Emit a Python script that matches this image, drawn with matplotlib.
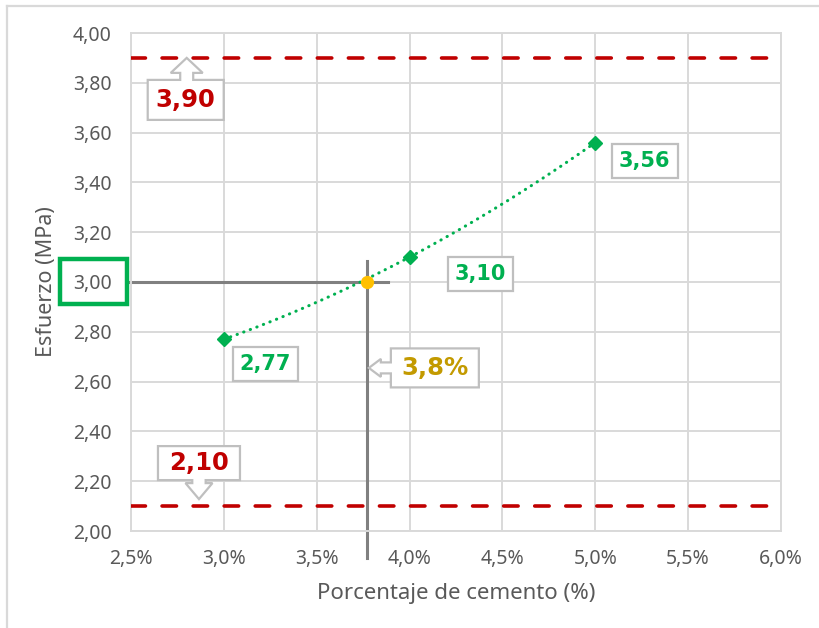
import numpy as np
import matplotlib
matplotlib.use("Agg")
import matplotlib.pyplot as plt
import matplotlib.transforms as mtransforms
from matplotlib.patches import Polygon, Rectangle
from matplotlib.lines import Line2D

# data
cement = [3.0, 4.0, 5.0]          # % cemento
stress = [2.77, 3.10, 3.56]       # MPa
limits = [2.10, 3.90]             # limites (MPa)
target = 3.00                     # esfuerzo buscado
x_target = 3.77                   # % cemento leido para 3,00 MPa
target_label = "3,8%"
xticks = [2.5, 3.0, 3.5, 4.0, 4.5, 5.0, 5.5, 6.0]
yticks = [2.0, 2.2, 2.4, 2.6, 2.8, 3.0, 3.2, 3.4, 3.6, 3.8, 4.0]

GREEN = "#00B050"
RED = "#C00000"
GOLD = "#C39A00"
GRID = "#D9D9D9"
TXT = "#595959"
BOXEC = "#BFBFBF"

plt.rcParams['font.family'] = ['Noto Sans', 'DejaVu Sans']

fig = plt.figure(figsize=(8.19, 6.28), dpi=100)
ax = fig.add_axes([131/819, 1 - 531/628, 650/819, 498/628])

# polynomial trend line (order 2) like the Excel one
coef = np.polyfit(cement, stress, 2)
xs = np.linspace(cement[0], cement[-1], 200)
ax.plot(xs, np.polyval(coef, xs), color=GREEN, lw=2.2,
        linestyle=(0, (0.1, 2.2)), dash_capstyle='round', zorder=3)
ax.plot(cement, stress, 'D', color=GREEN, ms=7.5, zorder=4)

for lim in limits:
    ax.axhline(lim, color=RED, lw=2.6, linestyle=(0, (4, 4.6)),
               dash_capstyle='round', zorder=3)

# guide lines
ax.plot([2.478, x_target + 0.112], [target, target], color="#808080", lw=2.2,
        clip_on=False, zorder=2)
ax.plot([x_target, x_target], [1.89, 3.085], color="#808080", lw=2.2,
        clip_on=False, zorder=2)
ax.plot([x_target], [target], 'o', color="#FFC000", ms=8.5, zorder=5)

ax.set_xlim(2.5, 6.0)
ax.set_ylim(2.0, 4.0)
ax.set_xticks(xticks)
ax.set_yticks(yticks)
ax.set_xticklabels([f"{v:.1f}%".replace('.', ',') for v in xticks])
ax.set_yticklabels([f"{v:.2f}".replace('.', ',') for v in yticks])
ax.tick_params(length=0, labelsize=14, colors=TXT)
ax.tick_params(axis='x', pad=13)
ax.tick_params(axis='y', pad=14)
ax.grid(True, color=GRID, lw=1.4)
ax.set_axisbelow(True)
for s in ax.spines.values():
    s.set_color(GRID)
    s.set_linewidth(1.4)
ax.set_xlabel("Porcentaje de cemento (%)", fontsize=16, color=TXT, labelpad=10)
ax.set_ylabel("Esfuerzo (MPa)", fontsize=15.5, color=TXT, labelpad=11)


def at(x, y):
    # pixel offsets around a data point
    return mtransforms.ScaledTranslation(x, y, ax.transData)


def callout(x, y, text, color, kind, box, hw, hl, sw, tip=(0, 0)):
    L, R, B, T = box
    tx, ty = tip
    if kind == 'up':
        pts = [(0, 0), (hw, -hl), (sw, -hl), (sw, T), (R, T), (R, B),
               (L, B), (L, T), (-sw, T), (-sw, -hl), (-hw, -hl)]
    elif kind == 'down':
        pts = [(0, 0), (hw, hl), (sw, hl), (sw, B), (R, B), (R, T),
               (L, T), (L, B), (-sw, B), (-sw, hl), (-hw, hl)]
    else:  # left
        pts = [(0, 0), (hl, hw), (hl, sw), (L, sw), (L, T), (R, T),
               (R, B), (L, B), (L, -sw), (hl, -sw), (hl, -hw)]
    pts = [(px + tx, py + ty) for px, py in pts]
    poly = Polygon(pts, closed=True, fc='white', ec=BOXEC, lw=1.6,
                   transform=at(x, y), clip_on=False, zorder=6)
    ax.add_patch(poly)
    ax.text((L + R) / 2 + tx, (B + T) / 2 + ty, text, color=color,
            fontsize=17.5, fontweight='bold', family='DejaVu Sans',
            ha='center', va='center', transform=at(x, y), zorder=7)


callout(2.80, limits[1], "3,90", RED, 'up', (-39, 37, -62, -22), 16, 15, 6.5)
callout(2.866, limits[0], "2,10", RED, 'down', (-41, 41, 19, 53), 13.5, 16, 6.7,
        tip=(0, 7))
callout(x_target, 2.655, target_label, GOLD, 'left', (22, 110, -19.5, 19.5),
        9, 12, 5.5, tip=(2, 0))

# green data labels
offsets = [(41.5, -24.5), (71, -16.5), (49.5, -18.5)]
for xv, yv, off in zip(cement, stress, offsets):
    ax.annotate(f"{yv:.2f}".replace('.', ','), (xv, yv), xytext=off,
                textcoords='offset pixels', ha='center', va='center',
                fontsize=15, fontweight='bold', family='DejaVu Sans',
                color=GREEN, zorder=7,
                bbox=dict(boxstyle='square,pad=0.34', fc='white', ec=BOXEC, lw=1.6))

# green frame round the 3,00 tick label
ax.add_patch(Rectangle((-71, -22), 66.5, 45.5, fill=False, ec=GREEN, lw=3.2,
                       transform=at(2.5, target), clip_on=False, zorder=6))

# chart area border (top and left)
fig.add_artist(Line2D([7/819, 7/819], [0, 1 - 6/628], color=GRID, lw=1.6))
fig.add_artist(Line2D([7/819, 1], [1 - 6/628, 1 - 6/628], color=GRID, lw=1.6))

plt.savefig("out.png", dpi=100)
